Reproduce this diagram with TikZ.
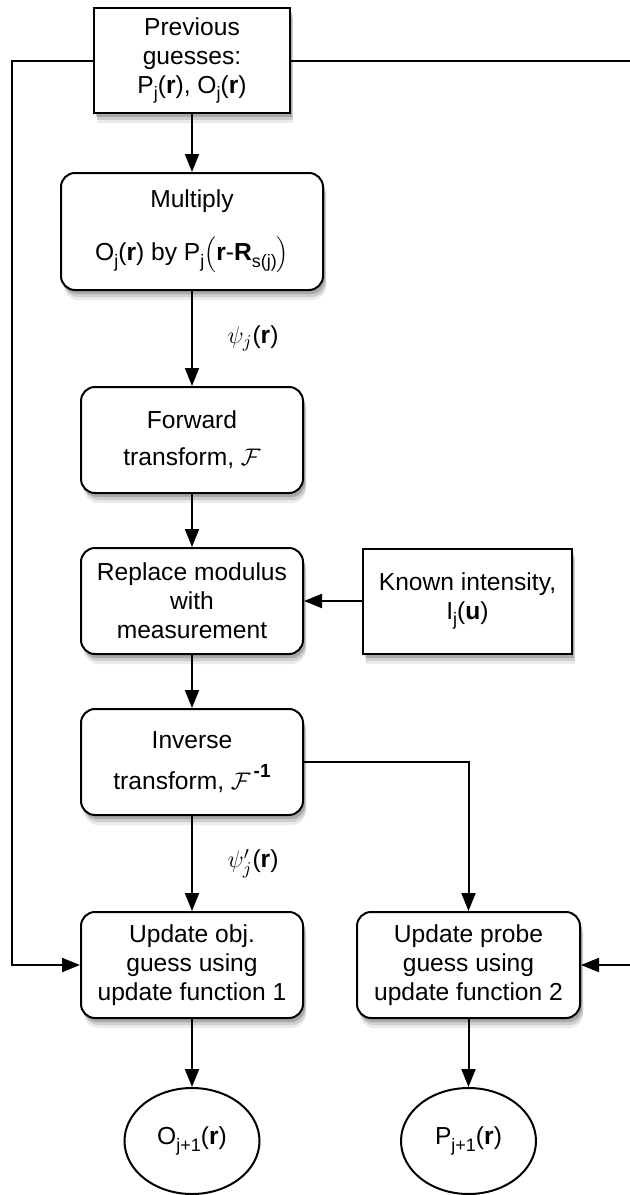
\documentclass[tikz,border=0pt]{standalone}
\usepackage{fontspec}
\setmainfont{Liberation Sans}
\usetikzlibrary{positioning,arrows.meta,shapes.geometric,shadows}
\newcommand{\lowsub}[1]{\raisebox{-0.5ex}{\fontsize{9pt}{9pt}\selectfont #1}}
\newcommand{\highsup}[1]{\raisebox{0.9ex}{\fontsize{9.5pt}{9.5pt}\selectfont\bfseries #1}}

\begin{document}
\begin{tikzpicture}[node distance=26.5pt and 29pt, every node/.style={font=\fontsize{12.3pt}{14.5pt}\selectfont}, soft/.style={drop shadow={shadow xshift=1.5pt, shadow yshift=-5pt, fill=black, opacity=0.08}, drop shadow={shadow xshift=1.5pt, shadow yshift=-3.5pt, fill=black, opacity=0.12}, drop shadow={shadow xshift=1pt, shadow yshift=-2pt, fill=black, opacity=0.18}}, box/.style={draw, line width=1pt, rounded corners=7pt, align=center, fill=white, minimum width=111pt, minimum height=53pt, soft}, sqbox/.style={box, sharp corners}, oval/.style={draw, line width=1pt, ellipse, fill=white, inner sep=1pt, minimum width=67.5pt, minimum height=53pt}, arr/.style={-{Triangle[length=9pt,width=7pt]}, line width=1pt}]
\useasboundingbox (0,0) rectangle (314.5pt,-597.5pt);
\node[sqbox, minimum width=98pt, minimum height=52.5pt] (prev) at (96pt,-30.25pt) {Previous\\guesses:\\P\lowsub{j}(\textbf{r}), O\lowsub{j}(\textbf{r})};
\node[box, below=29pt of prev, minimum width=131pt, minimum height=58.5pt] (mult) {Multiply\\[11pt]O\lowsub{j}(\textbf{r}) by P\lowsub{j}$\Bigl($\textbf{r}-\textbf{R}\lowsub{s(j)}$\Bigr)$};
\node[box, below=47.5pt of mult] (fwd) {Forward\\[4pt]transform, $\mathcal{F}$};
\node[box, below=of fwd] (repl) {Replace modulus\\with\\measurement};
\node[sqbox, right=of repl, minimum width=104.5pt, minimum height=52.5pt] (known) {Known intensity,\\I\lowsub{j}(\textbf{u})};
\node[box, below=of repl] (inv) {Inverse\\[6pt]transform, $\mathcal{F}$\highsup{\,-1}};
\node[box, below=47.5pt of inv] (updobj) {Update obj.\\guess using\\update function 1};
\node[box, right=26pt of updobj, minimum width=111.5pt] (updprb) {Update probe\\guess using\\update function 2};
\node[oval, below=34pt of updobj] (onew) {O\lowsub{j+1}(\textbf{r})};
\node[oval, below=34pt of updprb] (pnew) {P\lowsub{j+1}(\textbf{r})};
\coordinate (lft) at (6pt,-30.25pt);
\coordinate (rgt) at (316pt,-30.25pt);
\draw[arr] (prev) -- (mult);
\draw[arr] (mult) -- node[right=14pt] {$\psi_j$(\textbf{r})} (fwd);
\draw[arr] (fwd) -- (repl);
\draw[arr] (known) -- (repl);
\draw[arr] (repl) -- (inv);
\draw[arr] (inv) -- node[right=14pt] {$\psi'_j$(\textbf{r})} (updobj);
\draw[arr] (inv) -| (updprb);
\draw[arr] (updobj) -- (onew);
\draw[arr] (updprb) -- (pnew);
\draw[arr] (prev) -- (lft) |- (updobj);
\draw[arr] (prev) -- (rgt) |- (updprb);
\end{tikzpicture}
\end{document}
